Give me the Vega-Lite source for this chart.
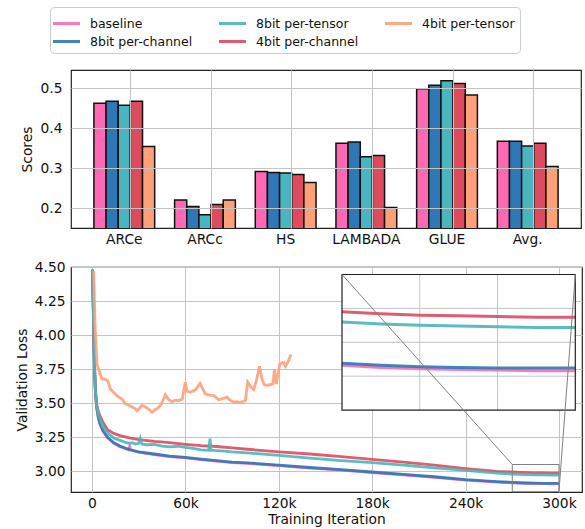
{
  "$schema": "https://vega.github.io/schema/vega-lite/v6.json",
  "padding": {"left": 14, "top": 5, "right": 5, "bottom": 0},
  "bounds": "flush",
  "spacing": 39,
  "resolve": {"legend": {"stroke": "independent"}},
  "config": {
    "font": "DejaVu Sans",
    "view": {"stroke": "#222222", "strokeWidth": 1.2},
    "axis": {
      "labelFont": "DejaVu Sans", "titleFont": "DejaVu Sans",
      "labelFontSize": 13.8, "titleFontSize": 13.8, "titleFontWeight": "normal",
      "labelColor": "#111111", "titleColor": "#111111",
      "gridColor": "#c4c4c4", "gridWidth": 1, "domain": false, "ticks": false, "labelPadding": 6,
      "labelOverlap": false
    }
  },
  "datasets": {
    "bars": [
      {"task": "ARCe", "method": "baseline", "score": 0.462},
      {"task": "ARCe", "method": "8bit per-channel", "score": 0.467},
      {"task": "ARCe", "method": "8bit per-tensor", "score": 0.457},
      {"task": "ARCe", "method": "4bit per-channel", "score": 0.467},
      {"task": "ARCe", "method": "4bit per-tensor", "score": 0.354},
      {"task": "ARCc", "method": "baseline", "score": 0.220},
      {"task": "ARCc", "method": "8bit per-channel", "score": 0.204},
      {"task": "ARCc", "method": "8bit per-tensor", "score": 0.183},
      {"task": "ARCc", "method": "4bit per-channel", "score": 0.209},
      {"task": "ARCc", "method": "4bit per-tensor", "score": 0.220},
      {"task": "HS", "method": "baseline", "score": 0.291},
      {"task": "HS", "method": "8bit per-channel", "score": 0.289},
      {"task": "HS", "method": "8bit per-tensor", "score": 0.2875},
      {"task": "HS", "method": "4bit per-channel", "score": 0.284},
      {"task": "HS", "method": "4bit per-tensor", "score": 0.264},
      {"task": "LAMBADA", "method": "baseline", "score": 0.362},
      {"task": "LAMBADA", "method": "8bit per-channel", "score": 0.365},
      {"task": "LAMBADA", "method": "8bit per-tensor", "score": 0.328},
      {"task": "LAMBADA", "method": "4bit per-channel", "score": 0.331},
      {"task": "LAMBADA", "method": "4bit per-tensor", "score": 0.201},
      {"task": "GLUE", "method": "baseline", "score": 0.498},
      {"task": "GLUE", "method": "8bit per-channel", "score": 0.507},
      {"task": "GLUE", "method": "8bit per-tensor", "score": 0.518},
      {"task": "GLUE", "method": "4bit per-channel", "score": 0.511},
      {"task": "GLUE", "method": "4bit per-tensor", "score": 0.4825},
      {"task": "Avg.", "method": "baseline", "score": 0.367},
      {"task": "Avg.", "method": "8bit per-channel", "score": 0.367},
      {"task": "Avg.", "method": "8bit per-tensor", "score": 0.355},
      {"task": "Avg.", "method": "4bit per-channel", "score": 0.362},
      {"task": "Avg.", "method": "4bit per-tensor", "score": 0.304}
    ],
    "loss": [
      {"method": "baseline", "iter": 300, "loss": 4.48},
      {"method": "baseline", "iter": 800, "loss": 4.2},
      {"method": "baseline", "iter": 1200, "loss": 3.94},
      {"method": "baseline", "iter": 1600, "loss": 3.74},
      {"method": "baseline", "iter": 2200, "loss": 3.57},
      {"method": "baseline", "iter": 3000, "loss": 3.46},
      {"method": "baseline", "iter": 4000, "loss": 3.395},
      {"method": "baseline", "iter": 5000, "loss": 3.35},
      {"method": "baseline", "iter": 7000, "loss": 3.295},
      {"method": "baseline", "iter": 10000, "loss": 3.245},
      {"method": "baseline", "iter": 14000, "loss": 3.205},
      {"method": "baseline", "iter": 18000, "loss": 3.18},
      {"method": "baseline", "iter": 23500, "loss": 3.157},
      {"method": "baseline", "iter": 24200, "loss": 3.185},
      {"method": "baseline", "iter": 25000, "loss": 3.155},
      {"method": "baseline", "iter": 30000, "loss": 3.14},
      {"method": "baseline", "iter": 40000, "loss": 3.123},
      {"method": "baseline", "iter": 50000, "loss": 3.108},
      {"method": "baseline", "iter": 60000, "loss": 3.098},
      {"method": "baseline", "iter": 70000, "loss": 3.086},
      {"method": "baseline", "iter": 80000, "loss": 3.074},
      {"method": "baseline", "iter": 90000, "loss": 3.064},
      {"method": "baseline", "iter": 100000, "loss": 3.058},
      {"method": "baseline", "iter": 120000, "loss": 3.042},
      {"method": "baseline", "iter": 140000, "loss": 3.024},
      {"method": "baseline", "iter": 160000, "loss": 3.008},
      {"method": "baseline", "iter": 180000, "loss": 2.991},
      {"method": "baseline", "iter": 200000, "loss": 2.974},
      {"method": "baseline", "iter": 220000, "loss": 2.956},
      {"method": "baseline", "iter": 240000, "loss": 2.935},
      {"method": "baseline", "iter": 260000, "loss": 2.92},
      {"method": "baseline", "iter": 270000, "loss": 2.916},
      {"method": "baseline", "iter": 275000, "loss": 2.913},
      {"method": "baseline", "iter": 280000, "loss": 2.911},
      {"method": "baseline", "iter": 285000, "loss": 2.91},
      {"method": "baseline", "iter": 290000, "loss": 2.909},
      {"method": "baseline", "iter": 295000, "loss": 2.908},
      {"method": "baseline", "iter": 300000, "loss": 2.908},
      {"method": "8bit per-channel", "iter": 300, "loss": 4.48},
      {"method": "8bit per-channel", "iter": 800, "loss": 4.2},
      {"method": "8bit per-channel", "iter": 1200, "loss": 3.95},
      {"method": "8bit per-channel", "iter": 1600, "loss": 3.75},
      {"method": "8bit per-channel", "iter": 2200, "loss": 3.58},
      {"method": "8bit per-channel", "iter": 3000, "loss": 3.47},
      {"method": "8bit per-channel", "iter": 4000, "loss": 3.40},
      {"method": "8bit per-channel", "iter": 5000, "loss": 3.355},
      {"method": "8bit per-channel", "iter": 7000, "loss": 3.30},
      {"method": "8bit per-channel", "iter": 10000, "loss": 3.25},
      {"method": "8bit per-channel", "iter": 14000, "loss": 3.21},
      {"method": "8bit per-channel", "iter": 18000, "loss": 3.185},
      {"method": "8bit per-channel", "iter": 24000, "loss": 3.16},
      {"method": "8bit per-channel", "iter": 30000, "loss": 3.143},
      {"method": "8bit per-channel", "iter": 40000, "loss": 3.127},
      {"method": "8bit per-channel", "iter": 50000, "loss": 3.112},
      {"method": "8bit per-channel", "iter": 60000, "loss": 3.102},
      {"method": "8bit per-channel", "iter": 70000, "loss": 3.09},
      {"method": "8bit per-channel", "iter": 80000, "loss": 3.078},
      {"method": "8bit per-channel", "iter": 90000, "loss": 3.068},
      {"method": "8bit per-channel", "iter": 100000, "loss": 3.062},
      {"method": "8bit per-channel", "iter": 120000, "loss": 3.046},
      {"method": "8bit per-channel", "iter": 140000, "loss": 3.028},
      {"method": "8bit per-channel", "iter": 160000, "loss": 3.012},
      {"method": "8bit per-channel", "iter": 180000, "loss": 2.995},
      {"method": "8bit per-channel", "iter": 200000, "loss": 2.978},
      {"method": "8bit per-channel", "iter": 220000, "loss": 2.96},
      {"method": "8bit per-channel", "iter": 240000, "loss": 2.939},
      {"method": "8bit per-channel", "iter": 260000, "loss": 2.924},
      {"method": "8bit per-channel", "iter": 270000, "loss": 2.919},
      {"method": "8bit per-channel", "iter": 275000, "loss": 2.916},
      {"method": "8bit per-channel", "iter": 280000, "loss": 2.914},
      {"method": "8bit per-channel", "iter": 285000, "loss": 2.913},
      {"method": "8bit per-channel", "iter": 290000, "loss": 2.912},
      {"method": "8bit per-channel", "iter": 295000, "loss": 2.912},
      {"method": "8bit per-channel", "iter": 300000, "loss": 2.912},
      {"method": "4bit per-channel", "iter": 300, "loss": 4.48},
      {"method": "4bit per-channel", "iter": 800, "loss": 4.25},
      {"method": "4bit per-channel", "iter": 1200, "loss": 4.0},
      {"method": "4bit per-channel", "iter": 1600, "loss": 3.8},
      {"method": "4bit per-channel", "iter": 2200, "loss": 3.6},
      {"method": "4bit per-channel", "iter": 3000, "loss": 3.49},
      {"method": "4bit per-channel", "iter": 4000, "loss": 3.44},
      {"method": "4bit per-channel", "iter": 5000, "loss": 3.41},
      {"method": "4bit per-channel", "iter": 7000, "loss": 3.36},
      {"method": "4bit per-channel", "iter": 10000, "loss": 3.305},
      {"method": "4bit per-channel", "iter": 14000, "loss": 3.278},
      {"method": "4bit per-channel", "iter": 18000, "loss": 3.262},
      {"method": "4bit per-channel", "iter": 24000, "loss": 3.245},
      {"method": "4bit per-channel", "iter": 30000, "loss": 3.233},
      {"method": "4bit per-channel", "iter": 40000, "loss": 3.22},
      {"method": "4bit per-channel", "iter": 50000, "loss": 3.21},
      {"method": "4bit per-channel", "iter": 60000, "loss": 3.198},
      {"method": "4bit per-channel", "iter": 70000, "loss": 3.188},
      {"method": "4bit per-channel", "iter": 80000, "loss": 3.182},
      {"method": "4bit per-channel", "iter": 90000, "loss": 3.172},
      {"method": "4bit per-channel", "iter": 100000, "loss": 3.162},
      {"method": "4bit per-channel", "iter": 120000, "loss": 3.142},
      {"method": "4bit per-channel", "iter": 140000, "loss": 3.127},
      {"method": "4bit per-channel", "iter": 160000, "loss": 3.107},
      {"method": "4bit per-channel", "iter": 180000, "loss": 3.088},
      {"method": "4bit per-channel", "iter": 200000, "loss": 3.068},
      {"method": "4bit per-channel", "iter": 220000, "loss": 3.045},
      {"method": "4bit per-channel", "iter": 240000, "loss": 3.02},
      {"method": "4bit per-channel", "iter": 260000, "loss": 3.0},
      {"method": "4bit per-channel", "iter": 270000, "loss": 2.995},
      {"method": "4bit per-channel", "iter": 275000, "loss": 2.992},
      {"method": "4bit per-channel", "iter": 280000, "loss": 2.99},
      {"method": "4bit per-channel", "iter": 285000, "loss": 2.989},
      {"method": "4bit per-channel", "iter": 290000, "loss": 2.988},
      {"method": "4bit per-channel", "iter": 295000, "loss": 2.987},
      {"method": "4bit per-channel", "iter": 300000, "loss": 2.987},
      {"method": "8bit per-tensor", "iter": 300, "loss": 4.48},
      {"method": "8bit per-tensor", "iter": 800, "loss": 4.22},
      {"method": "8bit per-tensor", "iter": 1200, "loss": 3.97},
      {"method": "8bit per-tensor", "iter": 1600, "loss": 3.77},
      {"method": "8bit per-tensor", "iter": 2200, "loss": 3.59},
      {"method": "8bit per-tensor", "iter": 3000, "loss": 3.48},
      {"method": "8bit per-tensor", "iter": 4000, "loss": 3.42},
      {"method": "8bit per-tensor", "iter": 5000, "loss": 3.385},
      {"method": "8bit per-tensor", "iter": 7000, "loss": 3.33},
      {"method": "8bit per-tensor", "iter": 10000, "loss": 3.28},
      {"method": "8bit per-tensor", "iter": 14000, "loss": 3.245},
      {"method": "8bit per-tensor", "iter": 18000, "loss": 3.227},
      {"method": "8bit per-tensor", "iter": 22000, "loss": 3.21},
      {"method": "8bit per-tensor", "iter": 24000, "loss": 3.205},
      {"method": "8bit per-tensor", "iter": 26000, "loss": 3.21},
      {"method": "8bit per-tensor", "iter": 28000, "loss": 3.2},
      {"method": "8bit per-tensor", "iter": 30000, "loss": 3.205},
      {"method": "8bit per-tensor", "iter": 31000, "loss": 3.24},
      {"method": "8bit per-tensor", "iter": 32000, "loss": 3.2},
      {"method": "8bit per-tensor", "iter": 35000, "loss": 3.195},
      {"method": "8bit per-tensor", "iter": 40000, "loss": 3.198},
      {"method": "8bit per-tensor", "iter": 45000, "loss": 3.185},
      {"method": "8bit per-tensor", "iter": 50000, "loss": 3.18},
      {"method": "8bit per-tensor", "iter": 55000, "loss": 3.184},
      {"method": "8bit per-tensor", "iter": 60000, "loss": 3.175},
      {"method": "8bit per-tensor", "iter": 65000, "loss": 3.168},
      {"method": "8bit per-tensor", "iter": 70000, "loss": 3.158},
      {"method": "8bit per-tensor", "iter": 75000, "loss": 3.155},
      {"method": "8bit per-tensor", "iter": 75800, "loss": 3.24},
      {"method": "8bit per-tensor", "iter": 76500, "loss": 3.155},
      {"method": "8bit per-tensor", "iter": 80000, "loss": 3.152},
      {"method": "8bit per-tensor", "iter": 85000, "loss": 3.148},
      {"method": "8bit per-tensor", "iter": 90000, "loss": 3.142},
      {"method": "8bit per-tensor", "iter": 100000, "loss": 3.135},
      {"method": "8bit per-tensor", "iter": 110000, "loss": 3.126},
      {"method": "8bit per-tensor", "iter": 120000, "loss": 3.117},
      {"method": "8bit per-tensor", "iter": 140000, "loss": 3.097},
      {"method": "8bit per-tensor", "iter": 160000, "loss": 3.078},
      {"method": "8bit per-tensor", "iter": 180000, "loss": 3.063},
      {"method": "8bit per-tensor", "iter": 200000, "loss": 3.045},
      {"method": "8bit per-tensor", "iter": 220000, "loss": 3.025},
      {"method": "8bit per-tensor", "iter": 240000, "loss": 3.007},
      {"method": "8bit per-tensor", "iter": 260000, "loss": 2.987},
      {"method": "8bit per-tensor", "iter": 270000, "loss": 2.98},
      {"method": "8bit per-tensor", "iter": 275000, "loss": 2.977},
      {"method": "8bit per-tensor", "iter": 280000, "loss": 2.975},
      {"method": "8bit per-tensor", "iter": 285000, "loss": 2.974},
      {"method": "8bit per-tensor", "iter": 290000, "loss": 2.973},
      {"method": "8bit per-tensor", "iter": 295000, "loss": 2.972},
      {"method": "8bit per-tensor", "iter": 300000, "loss": 2.972},
      {"method": "4bit per-tensor", "iter": 1100, "loss": 4.47},
      {"method": "4bit per-tensor", "iter": 1500, "loss": 4.275},
      {"method": "4bit per-tensor", "iter": 2100, "loss": 4.03},
      {"method": "4bit per-tensor", "iter": 3200, "loss": 3.786},
      {"method": "4bit per-tensor", "iter": 5300, "loss": 3.713},
      {"method": "4bit per-tensor", "iter": 6400, "loss": 3.678},
      {"method": "4bit per-tensor", "iter": 8500, "loss": 3.676},
      {"method": "4bit per-tensor", "iter": 10100, "loss": 3.664},
      {"method": "4bit per-tensor", "iter": 11800, "loss": 3.603},
      {"method": "4bit per-tensor", "iter": 15000, "loss": 3.568},
      {"method": "4bit per-tensor", "iter": 16100, "loss": 3.554},
      {"method": "4bit per-tensor", "iter": 19300, "loss": 3.53},
      {"method": "4bit per-tensor", "iter": 21400, "loss": 3.495},
      {"method": "4bit per-tensor", "iter": 24600, "loss": 3.48},
      {"method": "4bit per-tensor", "iter": 27800, "loss": 3.459},
      {"method": "4bit per-tensor", "iter": 28900, "loss": 3.444},
      {"method": "4bit per-tensor", "iter": 32000, "loss": 3.483},
      {"method": "4bit per-tensor", "iter": 33200, "loss": 3.48},
      {"method": "4bit per-tensor", "iter": 36400, "loss": 3.456},
      {"method": "4bit per-tensor", "iter": 38500, "loss": 3.434},
      {"method": "4bit per-tensor", "iter": 39600, "loss": 3.444},
      {"method": "4bit per-tensor", "iter": 42800, "loss": 3.469},
      {"method": "4bit per-tensor", "iter": 44500, "loss": 3.49},
      {"method": "4bit per-tensor", "iter": 47100, "loss": 3.562},
      {"method": "4bit per-tensor", "iter": 49000, "loss": 3.53},
      {"method": "4bit per-tensor", "iter": 51400, "loss": 3.512},
      {"method": "4bit per-tensor", "iter": 53500, "loss": 3.522},
      {"method": "4bit per-tensor", "iter": 55700, "loss": 3.52},
      {"method": "4bit per-tensor", "iter": 58000, "loss": 3.53},
      {"method": "4bit per-tensor", "iter": 59900, "loss": 3.653},
      {"method": "4bit per-tensor", "iter": 61000, "loss": 3.59},
      {"method": "4bit per-tensor", "iter": 63200, "loss": 3.58},
      {"method": "4bit per-tensor", "iter": 66400, "loss": 3.598},
      {"method": "4bit per-tensor", "iter": 69400, "loss": 3.645},
      {"method": "4bit per-tensor", "iter": 72800, "loss": 3.568},
      {"method": "4bit per-tensor", "iter": 75500, "loss": 3.56},
      {"method": "4bit per-tensor", "iter": 78200, "loss": 3.557},
      {"method": "4bit per-tensor", "iter": 81400, "loss": 3.525},
      {"method": "4bit per-tensor", "iter": 83500, "loss": 3.532},
      {"method": "4bit per-tensor", "iter": 86700, "loss": 3.544},
      {"method": "4bit per-tensor", "iter": 89000, "loss": 3.52},
      {"method": "4bit per-tensor", "iter": 91000, "loss": 3.508},
      {"method": "4bit per-tensor", "iter": 93000, "loss": 3.512},
      {"method": "4bit per-tensor", "iter": 95300, "loss": 3.505},
      {"method": "4bit per-tensor", "iter": 98500, "loss": 3.52},
      {"method": "4bit per-tensor", "iter": 100000, "loss": 3.654},
      {"method": "4bit per-tensor", "iter": 102000, "loss": 3.62},
      {"method": "4bit per-tensor", "iter": 103900, "loss": 3.6},
      {"method": "4bit per-tensor", "iter": 105500, "loss": 3.66},
      {"method": "4bit per-tensor", "iter": 107600, "loss": 3.771},
      {"method": "4bit per-tensor", "iter": 109200, "loss": 3.678},
      {"method": "4bit per-tensor", "iter": 110700, "loss": 3.634},
      {"method": "4bit per-tensor", "iter": 113000, "loss": 3.632},
      {"method": "4bit per-tensor", "iter": 116300, "loss": 3.642},
      {"method": "4bit per-tensor", "iter": 117200, "loss": 3.75},
      {"method": "4bit per-tensor", "iter": 118400, "loss": 3.642},
      {"method": "4bit per-tensor", "iter": 120600, "loss": 3.788},
      {"method": "4bit per-tensor", "iter": 123100, "loss": 3.8},
      {"method": "4bit per-tensor", "iter": 124200, "loss": 3.77},
      {"method": "4bit per-tensor", "iter": 126300, "loss": 3.813},
      {"method": "4bit per-tensor", "iter": 127800, "loss": 3.857}
    ],
    "zoom": [{"x0": 270000, "x1": 300000, "y0": 2.85, "y1": 3.05}],
    "connectors": [
      {"x": 160600, "y": 4.445, "x2": 270000, "y2": 3.05},
      {"x": 310500, "y": 4.445, "x2": 300000, "y2": 2.85}
    ],
    "igx": [{"v": 280000}, {"v": 290000}],
    "igy": [{"v": 2.9}, {"v": 2.95}, {"v": 3.0}]
  },
  "vconcat": [
    {
      "width": 510,
      "height": 158,
      "data": {"name": "bars"},
      "mark": {"type": "bar", "stroke": "#111111", "strokeWidth": 1.5, "clip": true},
      "encoding": {
        "x": {
          "field": "task", "type": "nominal",
          "sort": ["ARCe", "ARCc", "HS", "LAMBADA", "GLUE", "Avg."],
          "scale": {"paddingInner": 0.247, "paddingOuter": 0.284},
          "axis": {"title": null, "labelAngle": 0, "bandPosition": 0.6, "grid": true, "zindex": 1, "labelPadding": 4}
        },
        "xOffset": {
          "field": "method", "type": "nominal",
          "sort": ["baseline", "8bit per-channel", "8bit per-tensor", "4bit per-channel", "4bit per-tensor"],
          "scale": {"paddingInner": 0, "paddingOuter": 0}
        },
        "y": {
          "field": "score", "type": "quantitative",
          "scale": {"domain": [0.15, 0.545], "nice": false, "zero": false},
          "axis": {"title": "Scores", "values": [0.2, 0.3, 0.4, 0.5], "format": ".1f", "grid": true, "zindex": 1, "labelPadding": 9, "titlePadding": 6}
        },
        "fill": {
          "field": "method", "type": "nominal",
          "scale": {
            "domain": ["baseline", "8bit per-channel", "8bit per-tensor", "4bit per-channel", "4bit per-tensor"],
            "range": ["#ff69b4", "#2e78b5", "#4ab5be", "#dc4b5e", "#ffa07a"]
          },
          "legend": null
        }
      }
    },
    {
      "width": 511,
      "height": 225,
      "layer": [
        {
          "data": {"name": "loss"},
          "mark": {"type": "line", "strokeWidth": 2.8, "opacity": 0.9, "clip": true},
          "encoding": {
            "x": {
              "field": "iter", "type": "quantitative", "title": "Training Iteration",
              "scale": {"domain": [-13500, 314800], "nice": false, "zero": false},
              "axis": {"values": [0, 60000, 120000, 180000, 240000, 300000], "labelExpr": "datum.value == 0 ? '0' : (datum.value / 1000) + 'k'", "grid": true, "labelPadding": 4, "titlePadding": 3}
            },
            "y": {
              "field": "loss", "type": "quantitative", "title": "Validation Loss",
              "scale": {"domain": [2.848, 4.5], "nice": false, "zero": false},
              "axis": {"values": [3, 3.25, 3.5, 3.75, 4, 4.25, 4.5], "labelExpr": "format(datum.value, '.2f')", "grid": true, "labelPadding": 6, "titlePadding": 5, "labelOverlap": false}
            },
            "stroke": {
              "field": "method", "type": "nominal", "title": null,
              "scale": {
                "domain": ["baseline", "8bit per-channel", "8bit per-tensor", "4bit per-channel", "4bit per-tensor"],
                "range": ["#ff69b4", "#2e78b5", "#4ab5be", "#dc4b5e", "#ffa07a"]
              },
              "legend": {
                "orient": "none", "legendX": -21, "legendY": -260, "columns": 3,
                "symbolType": "M-1.35,0H1.35", "symbolStrokeWidth": 3, "symbolSize": 400,
                "labelFont": "DejaVu Sans", "labelFontSize": 12.5, "labelColor": "#111111",
                "strokeColor": "#cccccc", "cornerRadius": 4, "padding": 5, "fillColor": "white",
                "columnPadding": 20, "rowPadding": -2, "labelOffset": 12
              }
            },
            "order": {"field": "iter", "type": "quantitative"}
          }
        },
        {
          "layer": [
            {
              "data": {"name": "zoom"},
              "mark": {"type": "rect", "fill": "white", "strokeWidth": 0},
              "encoding": {
                "x": {"field": "x0", "type": "quantitative", "scale": {"domain": [270000, 300000], "range": [271, 504.3], "nice": false, "zero": false}, "axis": null},
                "x2": {"field": "x1"},
                "y": {"field": "y0", "type": "quantitative", "scale": {"domain": [2.85, 3.05], "range": [143.1, 7.5], "nice": false, "zero": false}, "axis": null},
                "y2": {"field": "y1"}
              }
            },
            {
              "data": {"name": "igx"},
              "mark": {"type": "rule", "stroke": "#c4c4c4", "strokeWidth": 1},
              "encoding": {
                "x": {"field": "v", "type": "quantitative", "scale": {"domain": [270000, 300000], "range": [271, 504.3], "nice": false, "zero": false}, "axis": null},
                "y": {"datum": 2.85, "type": "quantitative", "scale": {"domain": [2.85, 3.05], "range": [143.1, 7.5], "nice": false, "zero": false}, "axis": null},
                "y2": {"datum": 3.05}
              }
            },
            {
              "data": {"name": "igy"},
              "mark": {"type": "rule", "stroke": "#c4c4c4", "strokeWidth": 1},
              "encoding": {
                "y": {"field": "v", "type": "quantitative", "scale": {"domain": [2.85, 3.05], "range": [143.1, 7.5], "nice": false, "zero": false}, "axis": null},
                "x": {"datum": 270000, "type": "quantitative", "scale": {"domain": [270000, 300000], "range": [271, 504.3], "nice": false, "zero": false}, "axis": null},
                "x2": {"datum": 300000}
              }
            },
            {
              "data": {"name": "loss"},
              "transform": [{"filter": "datum.iter >= 270000"}],
              "mark": {"type": "line", "strokeWidth": 3, "opacity": 0.9},
              "encoding": {
                "x": {"field": "iter", "type": "quantitative", "scale": {"domain": [270000, 300000], "range": [271, 504.3], "nice": false, "zero": false}, "axis": null},
                "y": {"field": "loss", "type": "quantitative", "scale": {"domain": [2.85, 3.05], "range": [143.1, 7.5], "nice": false, "zero": false}, "axis": null},
                "stroke": {"field": "method", "type": "nominal", "title": null},
                "order": {"field": "iter", "type": "quantitative"}
              }
            },
            {
              "data": {"name": "zoom"},
              "mark": {"type": "rect", "filled": false, "stroke": "#222222", "strokeWidth": 1.2},
              "encoding": {
                "x": {"field": "x0", "type": "quantitative", "scale": {"domain": [270000, 300000], "range": [271, 504.3], "nice": false, "zero": false}, "axis": null},
                "x2": {"field": "x1"},
                "y": {"field": "y0", "type": "quantitative", "scale": {"domain": [2.85, 3.05], "range": [143.1, 7.5], "nice": false, "zero": false}, "axis": null},
                "y2": {"field": "y1"}
              }
            }
          ]
        },
        {
          "layer": [
            {
              "data": {"name": "zoom"},
              "mark": {"type": "rect", "filled": false, "stroke": "#808080", "strokeWidth": 1},
              "encoding": {
                "x": {"field": "x0", "type": "quantitative", "scale": {"domain": [-13500, 314800], "nice": false, "zero": false}, "axis": null},
                "x2": {"field": "x1"},
                "y": {"field": "y0", "type": "quantitative", "scale": {"domain": [2.848, 4.5], "nice": false, "zero": false}, "axis": null},
                "y2": {"field": "y1"}
              }
            },
            {
              "data": {"name": "connectors"},
              "mark": {"type": "rule", "stroke": "#808080", "strokeWidth": 1},
              "encoding": {
                "x": {"field": "x", "type": "quantitative", "scale": {"domain": [-13500, 314800], "nice": false, "zero": false}, "axis": null},
                "x2": {"field": "x2"},
                "y": {"field": "y", "type": "quantitative", "scale": {"domain": [2.848, 4.5], "nice": false, "zero": false}, "axis": null},
                "y2": {"field": "y2"}
              }
            }
          ]
        }
      ],
      "resolve": {"scale": {"x": "independent", "y": "independent"}}
    }
  ]
}
